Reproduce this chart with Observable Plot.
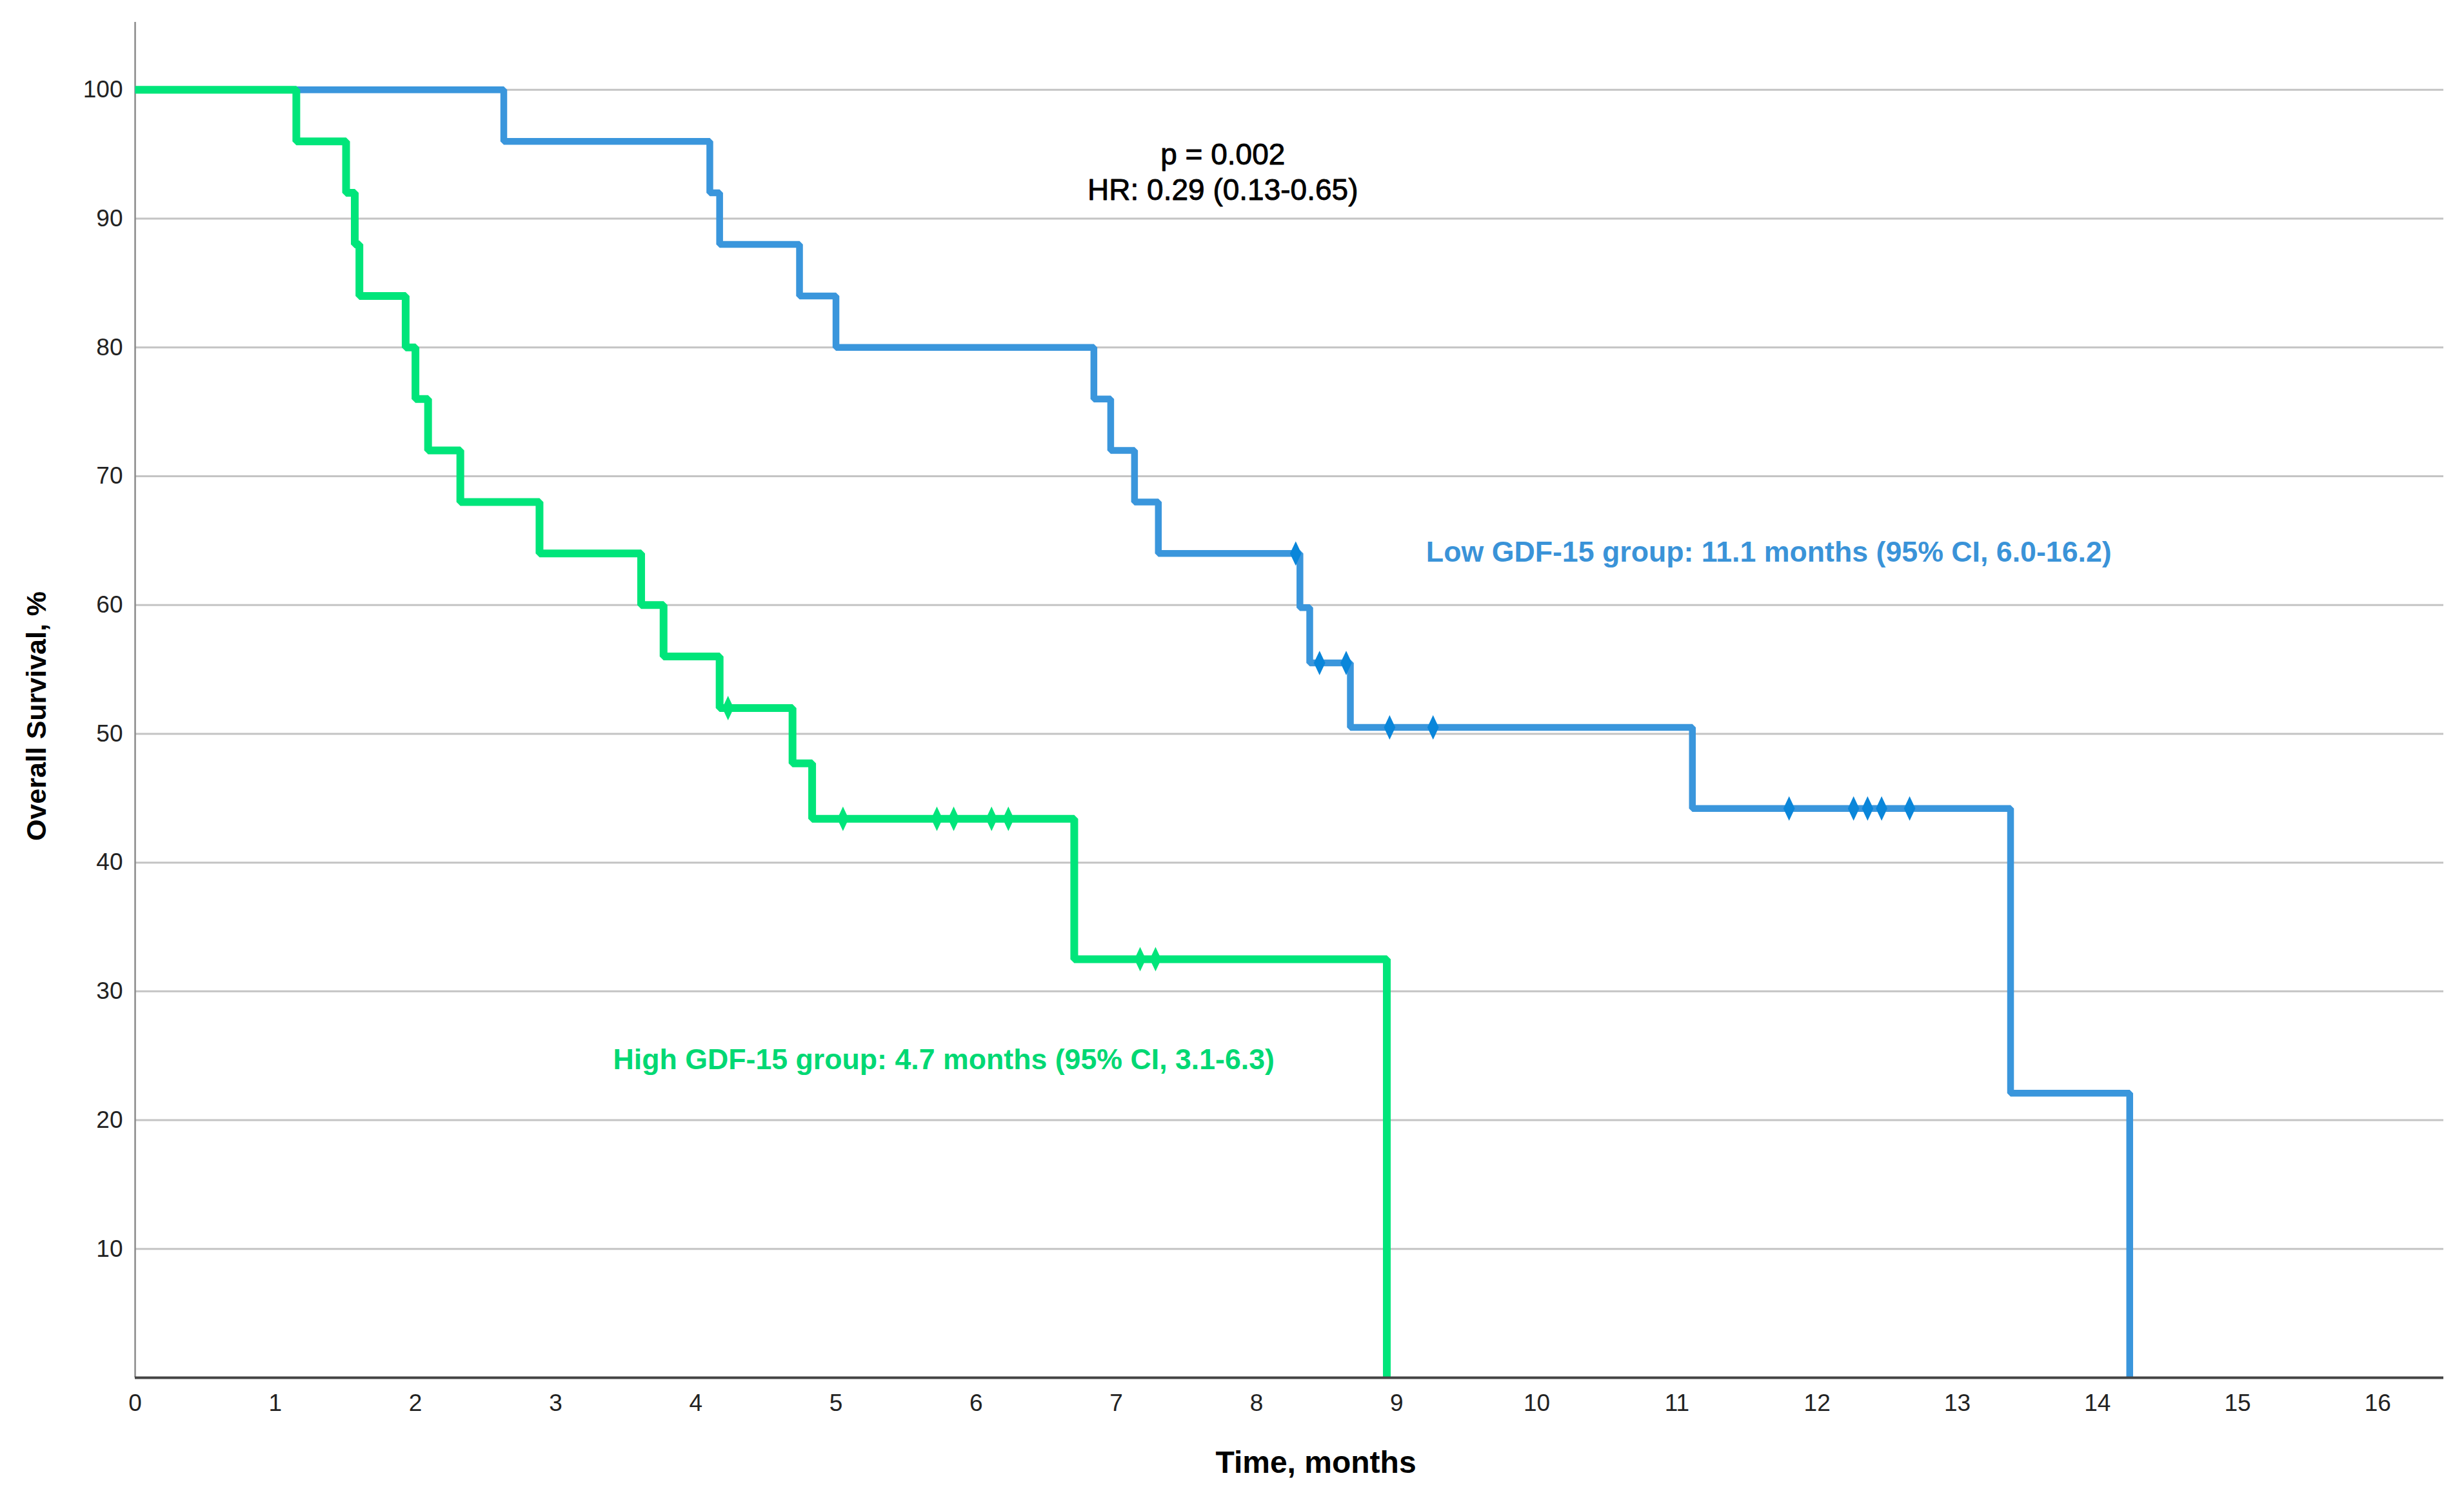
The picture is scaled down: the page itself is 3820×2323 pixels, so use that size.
<!DOCTYPE html>
<html><head><meta charset="utf-8">
<script src="https://cdn.jsdelivr.net/npm/d3@7"></script>
<script src="https://cdn.jsdelivr.net/npm/@observablehq/plot@0.6"></script>
<style>html,body{margin:0;padding:0;background:#fff;} svg{display:block}</style>
</head><body><div id="chart"></div>
<script>
// High GDF-15 group (green) Kaplan-Meier steps
const highTimes = [0, 1.15, 1.505, 1.567, 1.60, 1.93, 2.0, 2.09, 2.32, 2.885, 3.61, 3.77, 4.17, 4.69, 4.83, 6.70, 8.93];
const highSurv  = [100, 96, 92, 88, 84, 80, 76, 72, 68, 64, 60, 56, 52, 47.7, 43.4, 32.5, 0];
const highCensor = [4.23, 5.05, 5.72, 5.84, 6.11, 6.23, 7.17, 7.28];
// Low GDF-15 group (blue)
const lowTimes = [0, 2.63, 4.10, 4.17, 4.74, 5.0, 6.84, 6.96, 7.13, 7.30, 8.31, 8.38, 8.67, 11.11, 13.38, 14.23];
const lowSurv  = [100, 96, 92, 88, 84, 80, 76, 72, 68, 64, 59.8, 55.5, 50.5, 44.2, 22.1, 0];
const lowCensor = [8.28, 8.45, 8.64, 8.95, 9.26, 11.80, 12.26, 12.36, 12.46, 12.66];

const xTicks = [0,1,2,3,4,5,6,7,8,9,10,11,12,13,14,15,16];
const yTicks = [10,20,30,40,50,60,70,80,90,100];

const statLines = ["p = 0.002", "HR: 0.29 (0.13-0.65)"];
const statX = [7.76, 7.76];
const statY = [94.95, 92.2];
const groupLabels = ["Low GDF-15 group: 11.1 months (95% CI, 6.0-16.2)", "High GDF-15 group: 4.7 months (95% CI, 3.1-6.3)"];
const groupLabelX = [9.21, 3.41];
const groupLabelY = [64.1, 24.7];
const xLabel = "Time, months";
const yLabel = "Overall Survival, %";

const GREEN = "#00E57A", BLUE = "#3A96DC", BLUE_DARK = "#0A86DA";
const GREEN_TXT = "#00D873", BLUE_TXT = "#3A93D8";

const toRows = (ts, ss) => ts.map((t, i) => ({t, s: ss[i]}));
const stepAt = (ts, ss, t) => { let v = ss[0]; for (let i = 0; i < ts.length; i++) if (ts[i] <= t) v = ss[i]; return v; };
const high = toRows(highTimes, highSurv);
const low = toRows(lowTimes, lowSurv);
const highC = highCensor.map(t => ({t, s: stepAt(highTimes, highSurv, t)}));
const lowC = lowCensor.map(t => ({t, s: stepAt(lowTimes, lowSurv, t)}));

const spindle = {draw(ctx) { const h = 16, w = 7.5; ctx.moveTo(0, -h); ctx.lineTo(w, 0); ctx.lineTo(0, h); ctx.lineTo(-w, 0); ctx.closePath(); }};

const FONT = "'Liberation Sans', Arial, sans-serif";

const chart = Plot.plot({
  width: 3820, height: 2323,
  marginLeft: 209, marginRight: 32, marginTop: 34, marginBottom: 187,
  style: {fontFamily: FONT, fontSize: "37px", background: "#fff", color: "#222"},
  x: {domain: [0, 16.47], ticks: xTicks},
  y: {domain: [0, 105.25], ticks: yTicks},
  marks: [
    Plot.ruleY(yTicks, {stroke: "#c4c4c4", strokeWidth: 3}),
    Plot.ruleX([0], {stroke: "#8a8a8a", strokeWidth: 2.5}),
    Plot.axisY({ticks: yTicks, tickSize: 0, tickPadding: 19, label: null, fill: "#222"}),
    Plot.axisX({ticks: xTicks, tickSize: 0, tickPadding: 25, label: null, fill: "#222"}),
    Plot.line(low, {x: "t", y: "s", curve: "step-after", stroke: BLUE, strokeWidth: 10.5, strokeLinejoin: "miter", strokeLinecap: "butt"}),
    Plot.dot(lowC, {x: "t", y: "s", symbol: spindle, fill: BLUE_DARK, stroke: BLUE_DARK, strokeWidth: 2.5}),
    Plot.line(high, {x: "t", y: "s", curve: "step-after", stroke: GREEN, strokeWidth: 12, strokeLinejoin: "miter", strokeLinecap: "butt"}),
    Plot.dot(highC, {x: "t", y: "s", symbol: spindle, fill: GREEN, stroke: GREEN, strokeWidth: 2.5}),
    Plot.ruleY([0], {stroke: "#444", strokeWidth: 4}),
    Plot.text(statLines, {x: (d, i) => statX[i], y: (d, i) => statY[i], text: d => d, fontSize: 46, fill: "#000", stroke: "#000", strokeWidth: 0.9, textAnchor: "middle", lineAnchor: "middle"}),
    Plot.text(groupLabels, {x: (d, i) => groupLabelX[i], y: (d, i) => groupLabelY[i], text: d => d, fontSize: 44.7, fontWeight: "bold", fill: (d, i) => i === 0 ? BLUE_TXT : GREEN_TXT, textAnchor: "start", lineAnchor: "middle"}),
    Plot.text([xLabel], {frameAnchor: "bottom", dx: 41, dy: 132, fontSize: 48, fontWeight: "bold", fill: "#000", textAnchor: "middle", lineAnchor: "middle"}),
    Plot.text([yLabel], {frameAnchor: "left", dx: -152, dy: 25, rotate: -90, fontSize: 43, fontWeight: "bold", fill: "#000", textAnchor: "middle", lineAnchor: "middle"})
  ]
});
document.getElementById("chart").appendChild(chart);
</script>
</body></html>
